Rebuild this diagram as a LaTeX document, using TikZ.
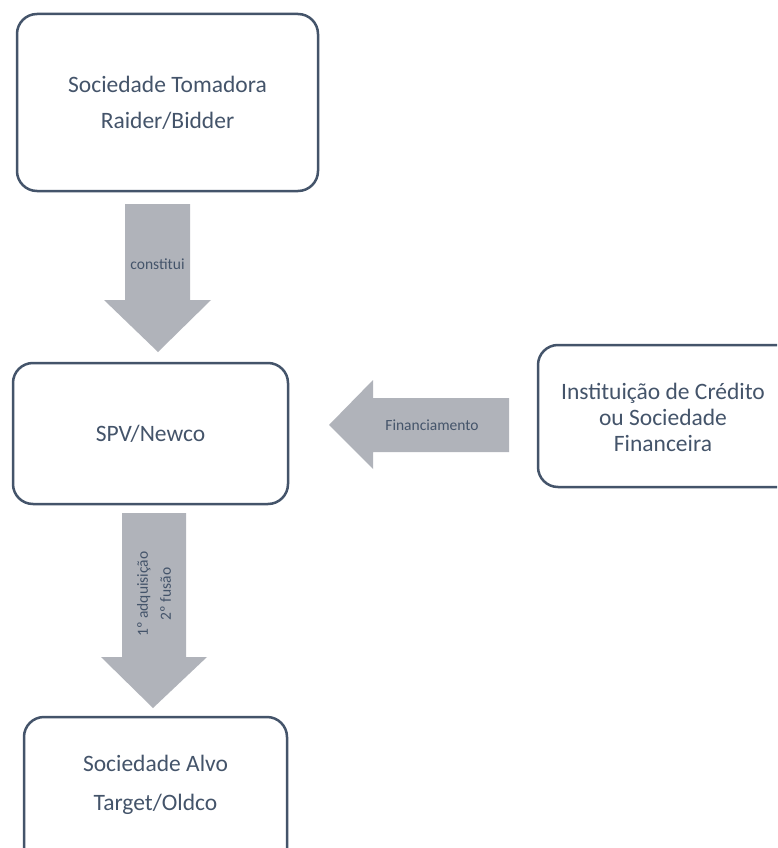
\documentclass[tikz,border=0pt]{standalone}
\usepackage{fontspec}
\setmainfont{Carlito}
\definecolor{boxline}{RGB}{68,84,106}
\definecolor{arrowfill}{RGB}{176,179,186}
\definecolor{txt}{RGB}{68,84,106}
\tikzset{
  box/.style={draw=boxline, line width=2.5pt, rounded corners=20pt, fill=white,
    text=txt, align=center, inner sep=0pt},
  boxtext/.style={text=txt, align=center, inner sep=0pt},
  blockarrow/.style={fill=arrowfill, draw=none},
  lbl/.style={text=txt, font=\fontsize{15.5}{23}\selectfont, inner sep=0pt, align=center}
}
\begin{document}
\begin{tikzpicture}[x=1pt,y=-1pt]
\path[use as bounding box, clip] (0,0) rectangle (777,848);
\fill[white] (0,0) rectangle (777,848);

% boxes
\node[box, minimum width=301, minimum height=177, font=\fontsize{23.5}{36}\selectfont]
  (tom) at (167.5,102.5) {Sociedade Tomadora\\Raider/Bidder};
\node[box, minimum width=275, minimum height=141, font=\fontsize{23.5}{28}\selectfont]
  (spv) at (150.5,433.5) {SPV/Newco};
\node[box, minimum width=270, minimum height=142] (inst) at (673,416) {};
\node[boxtext, font=\fontsize{23.5}{26}\selectfont] (insttext) at (663,417)
  {Instituição de Crédito\\ou Sociedade\\Financeira};
\node[box, minimum width=263, minimum height=160] (alvo) at (155.5,797) {};
\node[boxtext, font=\fontsize{23.5}{39}\selectfont] (alvotext) at (155.5,785)
  {Sociedade Alvo\\Target/Oldco};

% block arrows
\fill[blockarrow] (125,204) -- (190,204) -- (190,300) -- (211,300) -- (158,352)
  -- (104,300) -- (125,300) -- cycle;
\node[lbl] (lconst) at (157.5,264) {constitui};

\fill[blockarrow] (509,398) -- (509,452) -- (373,452) -- (373,469) -- (329,425)
  -- (373,380) -- (373,398) -- cycle;
\node[lbl] (lfin) at (432,425) {Financiamento};

\fill[blockarrow] (122,513) -- (186,513) -- (186,657) -- (207,657) -- (153,708)
  -- (101,657) -- (122,657) -- cycle;
\node[lbl, rotate=90] (ladq) at (154,594) {1º adquisição\\2º fusão};
\end{tikzpicture}
\end{document}
